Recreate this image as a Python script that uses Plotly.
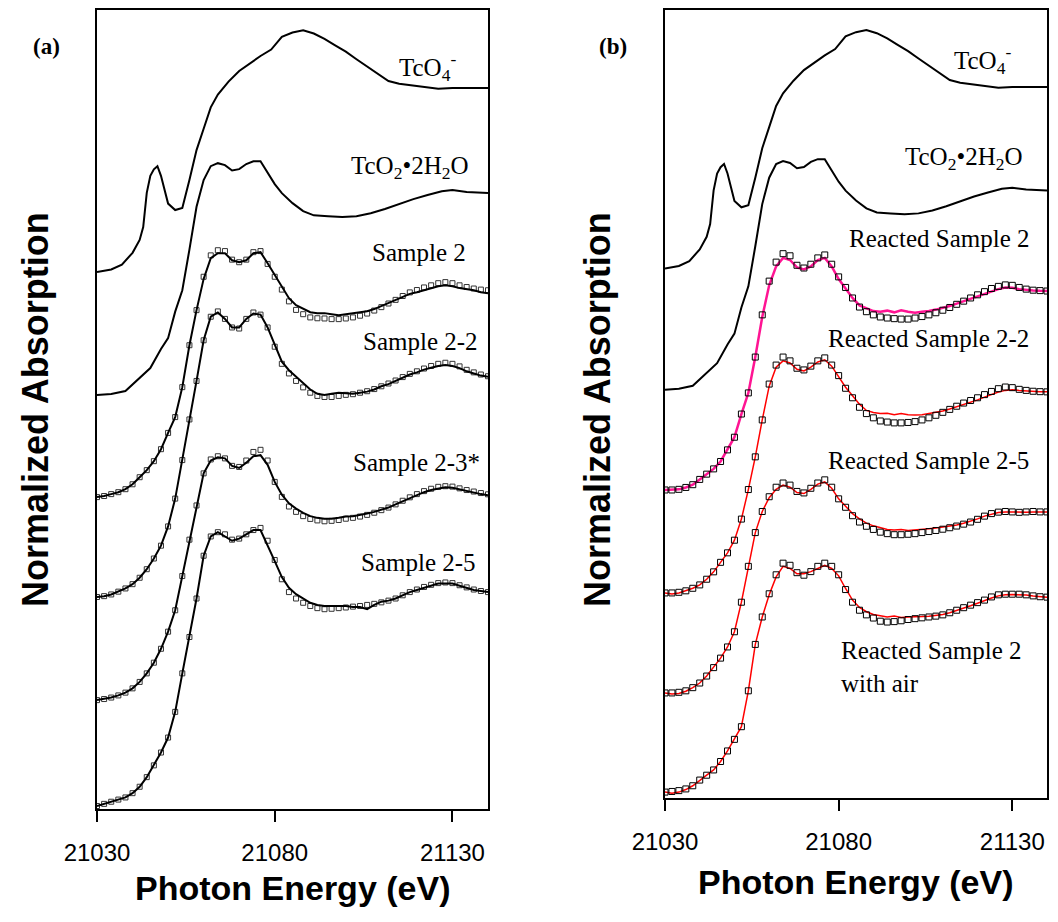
import plotly.graph_objects as go

# ---------------- data ----------------
ENERGY = [21030, 21032, 21034, 21036, 21038, 21040, 21042, 21044, 21046, 21048,
          21050, 21052, 21054, 21056, 21058, 21060, 21062, 21064, 21066, 21068,
          21070, 21072, 21074, 21076, 21078, 21080, 21082, 21084, 21086, 21088,
          21090, 21092, 21094, 21096, 21098, 21100, 21102, 21104, 21106, 21108,
          21110, 21112, 21114, 21116, 21118, 21120, 21122, 21124, 21126, 21128,
          21130, 21132, 21134, 21136, 21138, 21140]

E_TCO4 = [21030, 21034, 21037, 21040, 21042, 21043, 21044, 21045, 21046, 21047,
          21048, 21049, 21050, 21052, 21054, 21056, 21058, 21060, 21062, 21064,
          21067, 21070, 21073, 21076, 21079, 21082, 21085, 21088, 21091, 21094,
          21097, 21100, 21103, 21106, 21109, 21112, 21115, 21118, 21122, 21126,
          21130, 21135, 21140]
TCO4 = [0.0, 0.012, 0.035, 0.09, 0.15, 0.21, 0.37, 0.45, 0.48, 0.495,
        0.45, 0.38, 0.32, 0.29, 0.30, 0.43, 0.57, 0.67, 0.77, 0.83,
        0.89, 0.94, 0.975, 1.01, 1.04, 1.10, 1.12, 1.13, 1.115, 1.09,
        1.06, 1.03, 0.995, 0.96, 0.925, 0.893, 0.88, 0.874, 0.866, 0.857,
        0.86, 0.86, 0.86]

E_TCO2 = [21030, 21034, 21038, 21042, 21045, 21048, 21050, 21052, 21054, 21056,
          21058, 21060, 21062, 21064, 21066, 21068, 21070, 21072, 21074, 21076,
          21078, 21080, 21082, 21085, 21088, 21091, 21095, 21099, 21103, 21107,
          21111, 21115, 21119, 21123, 21127, 21130, 21134, 21140]
TCO2 = [0.0, 0.005, 0.019, 0.08, 0.126, 0.215, 0.266, 0.39, 0.49, 0.68,
        0.88, 1.005, 1.07, 1.084, 1.075, 1.05, 1.056, 1.08, 1.093, 1.093,
        1.037, 0.986, 0.944, 0.897, 0.86, 0.84, 0.836, 0.832, 0.836, 0.85,
        0.87, 0.893, 0.916, 0.935, 0.953, 0.958, 0.949, 0.944]

# panel (a) samples: solid line and open squares
S2_LINE = [0, 0.005, 0.014, 0.023, 0.037, 0.06, 0.093, 0.126, 0.168, 0.224,
           0.30, 0.374, 0.514, 0.71, 0.874, 1.02, 1.117, 1.14, 1.14, 1.107,
           1.098, 1.107, 1.14, 1.145, 1.093, 1.037, 0.981, 0.93, 0.897, 0.879,
           0.864, 0.86, 0.86, 0.855, 0.85, 0.855, 0.86, 0.864, 0.869, 0.879,
           0.893, 0.907, 0.92, 0.935, 0.95, 0.958, 0.967, 0.977, 0.986, 0.99,
           0.986, 0.977, 0.972, 0.967, 0.958, 0.953]
S2_SQ = [0, 0.005, 0.014, 0.023, 0.037, 0.06, 0.093, 0.126, 0.168, 0.224,
         0.30, 0.374, 0.514, 0.71, 0.874, 1.03, 1.13, 1.154, 1.15, 1.11,
         1.098, 1.11, 1.145, 1.15, 1.09, 1.03, 0.97, 0.915, 0.875, 0.855,
         0.84, 0.836, 0.835, 0.832, 0.832, 0.835, 0.84, 0.848, 0.858, 0.872,
         0.888, 0.905, 0.922, 0.94, 0.957, 0.968, 0.98, 0.99, 1.0, 1.005,
         1.0, 0.99, 0.982, 0.975, 0.97, 0.967]
S22_LINE = [0, 0.004, 0.012, 0.025, 0.04, 0.06, 0.09, 0.13, 0.18, 0.24,
            0.33, 0.46, 0.64, 0.83, 1.01, 1.2, 1.31, 1.33, 1.3, 1.26,
            1.26, 1.3, 1.325, 1.32, 1.26, 1.18, 1.1, 1.06, 1.03, 1.0,
            0.97, 0.95, 0.944, 0.95, 0.955, 0.953, 0.95, 0.955, 0.96, 0.97,
            0.985, 0.995, 1.01, 1.025, 1.04, 1.05, 1.063, 1.072, 1.08, 1.084,
            1.08, 1.07, 1.055, 1.045, 1.035, 1.03]
S22_SQ = [0, 0.004, 0.012, 0.025, 0.04, 0.06, 0.09, 0.13, 0.18, 0.24,
          0.33, 0.46, 0.64, 0.83, 1.01, 1.2, 1.31, 1.335, 1.3, 1.26,
          1.255, 1.3, 1.33, 1.32, 1.26, 1.17, 1.09, 1.045, 1.01, 0.98,
          0.955, 0.94, 0.935, 0.935, 0.94, 0.945, 0.948, 0.955, 0.962, 0.972,
          0.985, 0.998, 1.012, 1.028, 1.043, 1.055, 1.068, 1.08, 1.09, 1.095,
          1.09, 1.078, 1.062, 1.05, 1.04, 1.032]
S23_LINE = [0, 0.005, 0.012, 0.022, 0.035, 0.055, 0.085, 0.125, 0.175, 0.24,
            0.32, 0.42, 0.58, 0.75, 0.91, 1.06, 1.12, 1.135, 1.13, 1.095,
            1.085, 1.11, 1.14, 1.145, 1.1, 1.02, 0.96, 0.92, 0.895, 0.875,
            0.86, 0.852, 0.848, 0.848, 0.852, 0.858, 0.86, 0.865, 0.872, 0.88,
            0.89, 0.9, 0.915, 0.93, 0.945, 0.96, 0.972, 0.982, 0.99, 0.995,
            0.993, 0.985, 0.978, 0.97, 0.963, 0.958]
S23_SQ = [0, 0.005, 0.012, 0.022, 0.035, 0.055, 0.085, 0.125, 0.175, 0.24,
          0.32, 0.42, 0.58, 0.75, 0.91, 1.06, 1.125, 1.14, 1.13, 1.095,
          1.09, 1.12, 1.16, 1.17, 1.12, 1.02, 0.95, 0.905, 0.88, 0.86,
          0.847, 0.84, 0.836, 0.838, 0.842, 0.848, 0.852, 0.858, 0.866, 0.876,
          0.888, 0.9, 0.915, 0.932, 0.948, 0.963, 0.977, 0.988, 0.997, 1.0,
          0.998, 0.99, 0.982, 0.975, 0.968, 0.962]
S25_LINE = [0, 0.01, 0.02, 0.03, 0.04, 0.06, 0.09, 0.135, 0.19, 0.25,
            0.32, 0.44, 0.62, 0.79, 0.97, 1.17, 1.26, 1.28, 1.26, 1.24,
            1.25, 1.27, 1.29, 1.29, 1.22, 1.145, 1.07, 1.02, 0.99, 0.97,
            0.95, 0.94, 0.935, 0.935, 0.935, 0.935, 0.93, 0.93, 0.92, 0.94,
            0.955, 0.96, 0.97, 0.985, 1.0, 1.01, 1.02, 1.03, 1.04, 1.04,
            1.04, 1.03, 1.02, 1.01, 1.005, 1.0]
S25_SQ = [0, 0.01, 0.02, 0.03, 0.04, 0.06, 0.09, 0.135, 0.19, 0.25,
          0.32, 0.44, 0.62, 0.79, 0.97, 1.17, 1.26, 1.28, 1.27, 1.245,
          1.25, 1.27, 1.29, 1.3, 1.24, 1.15, 1.06, 1.0, 0.97, 0.95,
          0.935, 0.925, 0.92, 0.922, 0.925, 0.928, 0.932, 0.935, 0.94, 0.945,
          0.952, 0.96, 0.97, 0.985, 1.0, 1.012, 1.024, 1.034, 1.042, 1.045,
          1.042, 1.032, 1.022, 1.012, 1.005, 1.0]

# panel (b) reacted samples: coloured line and open squares
R2_LINE = [0, 0, 0.003, 0.012, 0.025, 0.05, 0.075, 0.1, 0.135, 0.19,
           0.25, 0.36, 0.46, 0.63, 0.82, 0.97, 1.06, 1.1, 1.09, 1.055,
           1.045, 1.06, 1.09, 1.1, 1.06, 1.0, 0.955, 0.91, 0.875, 0.86,
           0.848, 0.845, 0.85, 0.842, 0.852, 0.845, 0.84, 0.845, 0.848, 0.855,
           0.862, 0.872, 0.883, 0.895, 0.905, 0.918, 0.93, 0.942, 0.952, 0.96,
           0.958, 0.952, 0.948, 0.946, 0.944, 0.943]
R2_SQ = [0, 0, 0.003, 0.012, 0.025, 0.05, 0.075, 0.1, 0.135, 0.19,
         0.25, 0.36, 0.46, 0.63, 0.83, 0.99, 1.08, 1.12, 1.11, 1.065,
         1.052, 1.07, 1.1, 1.114, 1.07, 1.01, 0.96, 0.91, 0.867, 0.845,
         0.83, 0.82, 0.815, 0.812, 0.81, 0.81, 0.815, 0.822, 0.83, 0.84,
         0.852, 0.865, 0.88, 0.895, 0.91, 0.925, 0.94, 0.955, 0.965, 0.972,
         0.97, 0.96, 0.952, 0.947, 0.945, 0.943]
R22_LINE = [0, -0.005, 0.0, 0.01, 0.022, 0.038, 0.065, 0.1, 0.145, 0.19,
            0.25, 0.35, 0.49, 0.645, 0.82, 0.98, 1.07, 1.1, 1.09, 1.06,
            1.052, 1.07, 1.095, 1.105, 1.075, 1.025, 0.975, 0.935, 0.895, 0.865,
            0.855, 0.85, 0.852, 0.845, 0.85, 0.845, 0.843, 0.845, 0.85, 0.855,
            0.862, 0.872, 0.882, 0.893, 0.903, 0.915, 0.928, 0.94, 0.952, 0.96,
            0.963, 0.96, 0.957, 0.955, 0.954, 0.953]
R22_SQ = [0, 0, 0.003, 0.01, 0.022, 0.038, 0.065, 0.1, 0.145, 0.19,
          0.25, 0.35, 0.49, 0.645, 0.82, 0.99, 1.08, 1.118, 1.1, 1.065,
          1.057, 1.075, 1.1, 1.114, 1.08, 1.03, 0.97, 0.925, 0.88, 0.85,
          0.83, 0.815, 0.81, 0.806, 0.806, 0.808, 0.812, 0.82, 0.83, 0.842,
          0.856, 0.87, 0.885, 0.9, 0.912, 0.925, 0.94, 0.955, 0.968, 0.976,
          0.973, 0.965, 0.96, 0.956, 0.954, 0.953]
R25_LINE = [0, -0.005, -0.003, 0.008, 0.025, 0.047, 0.08, 0.12, 0.165, 0.218,
            0.29, 0.43, 0.6, 0.76, 0.86, 0.925, 0.965, 0.985, 0.975, 0.95,
            0.945, 0.965, 0.99, 1.0, 0.97, 0.92, 0.885, 0.85, 0.825, 0.805,
            0.792, 0.782, 0.775, 0.772, 0.775, 0.77, 0.772, 0.775, 0.778, 0.782,
            0.786, 0.79, 0.796, 0.804, 0.813, 0.825, 0.838, 0.848, 0.855, 0.858,
            0.857, 0.856, 0.857, 0.858, 0.858, 0.858]
R25_SQ = [0, 0, 0.003, 0.01, 0.025, 0.047, 0.08, 0.12, 0.165, 0.218,
          0.29, 0.43, 0.6, 0.76, 0.86, 0.93, 0.975, 0.995, 0.985, 0.955,
          0.948, 0.97, 0.995, 1.01, 0.975, 0.92, 0.88, 0.84, 0.81, 0.79,
          0.775, 0.762, 0.755, 0.75, 0.75, 0.752, 0.755, 0.76, 0.765, 0.77,
          0.776, 0.783, 0.791, 0.8, 0.81, 0.823, 0.838, 0.85, 0.857, 0.86,
          0.858, 0.856, 0.858, 0.86, 0.858, 0.858]
RAIR_LINE = [0, -0.005, 0.0, 0.012, 0.03, 0.057, 0.08, 0.105, 0.145, 0.195,
             0.25, 0.31, 0.48, 0.7, 0.83, 0.935, 1.02, 1.07, 1.06, 1.035,
             1.035, 1.045, 1.06, 1.075, 1.06, 1.025, 0.965, 0.91, 0.875, 0.855,
             0.842, 0.835, 0.83, 0.835, 0.828, 0.83, 0.83, 0.832, 0.834, 0.837,
             0.842, 0.85, 0.86, 0.871, 0.883, 0.895, 0.908, 0.92, 0.93, 0.935,
             0.936, 0.936, 0.934, 0.93, 0.926, 0.924]
RAIR_SQ = [0, 0.003, 0.007, 0.015, 0.03, 0.057, 0.08, 0.105, 0.145, 0.195,
           0.25, 0.31, 0.48, 0.7, 0.83, 0.94, 1.03, 1.085, 1.075, 1.04,
           1.028, 1.045, 1.07, 1.085, 1.07, 1.03, 0.96, 0.9, 0.862, 0.84,
           0.825, 0.81, 0.806, 0.808, 0.812, 0.818, 0.822, 0.826, 0.83, 0.834,
           0.84, 0.85, 0.862, 0.874, 0.886, 0.898, 0.91, 0.925, 0.935, 0.938,
           0.938, 0.938, 0.935, 0.93, 0.926, 0.924]

# vertical stacking offsets (normalized units)
OFFSETS_A = {"TcO4": 2.51, "TcO2": 1.935, "S2": 1.458, "S22": 0.991, "S23": 0.509, "S25": 0.014}
OFFSETS_B = {"TcO4": 2.51, "TcO2": 1.935, "R2": 1.46, "R22": 0.972, "R25": 0.498, "RAIR": 0.028}

LABELS_A = [("TcO<sub>4</sub><sup>-</sup>", 21123, 3.47),
            ("TcO<sub>2</sub>•2H<sub>2</sub>O", 21118, 3.0),
            ("Sample 2", 21120.5, 2.6),
            ("Sample 2-2", 21121, 2.185),
            ("Sample 2-3*", 21120, 1.62),
            ("Sample 2-5", 21120.5, 1.15)]
LABELS_B = [("TcO<sub>4</sub><sup>-</sup>", 21121.5, 3.5),
            ("TcO<sub>2</sub>•2H<sub>2</sub>O", 21116, 3.03),
            ("Reacted Sample 2", 21109, 2.65),
            ("Reacted Sample 2-2", 21106, 2.18),
            ("Reacted Sample 2-5", 21106, 1.6)]
LABEL_AIR = ("Reacted Sample 2<br>with air", 21080, 0.62)

TICKS = [21030, 21080, 21130]
TICK_TEXT = ["21030", "21080", "21130"]

# ---------------- figure ----------------
W, H = 1058, 922
fig = go.Figure()


def shift(vals, off):
    return [v + off for v in vals]


def line(x, y, xa, ya, color="black", width=2):
    fig.add_trace(go.Scatter(x=x, y=y, mode="lines", xaxis=xa, yaxis=ya,
                             line=dict(color=color, width=width), hoverinfo="skip"))


def squares(x, y, xa, ya, color="#222222", size=5):
    fig.add_trace(go.Scatter(x=x, y=y, mode="markers", xaxis=xa, yaxis=ya,
                             marker=dict(symbol="square-open", size=size, color=color,
                                         line=dict(width=1, color=color)),
                             hoverinfo="skip"))


# panel (a)
line(E_TCO4, shift(TCO4, OFFSETS_A["TcO4"]), "x", "y")
line(E_TCO2, shift(TCO2, OFFSETS_A["TcO2"]), "x", "y")
for key, ln, sq in [("S2", S2_LINE, S2_SQ), ("S22", S22_LINE, S22_SQ),
                    ("S23", S23_LINE, S23_SQ), ("S25", S25_LINE, S25_SQ)]:
    squares(ENERGY, shift(sq, OFFSETS_A[key]), "x", "y", color="#333333")
    line(ENERGY, shift(ln, OFFSETS_A[key]), "x", "y")

# panel (b)
line(E_TCO4, shift(TCO4, OFFSETS_B["TcO4"]), "x2", "y2")
line(E_TCO2, shift(TCO2, OFFSETS_B["TcO2"]), "x2", "y2")
line(ENERGY, shift(R2_LINE, OFFSETS_B["R2"]), "x2", "y2", color="#FF1493", width=2.5)
squares(ENERGY, shift(R2_SQ, OFFSETS_B["R2"]), "x2", "y2", color="black", size=6)
for key, ln, sq in [("R22", R22_LINE, R22_SQ), ("R25", R25_LINE, R25_SQ),
                    ("RAIR", RAIR_LINE, RAIR_SQ)]:
    line(ENERGY, shift(ln, OFFSETS_B[key]), "x2", "y2", color="#FF0000", width=1.5)
    squares(ENERGY, shift(sq, OFFSETS_B[key]), "x2", "y2", color="black", size=6)

serif = "Liberation Serif, Times New Roman, serif"
sans = "Liberation Sans, Arial, sans-serif"

ann = []
for txt, x, y in LABELS_A:
    ann.append(dict(text=txt, x=x, y=y, xref="x", yref="y", showarrow=False,
                    font=dict(family=serif, size=25, color="black"),
                    xanchor="center", yanchor="middle"))
for txt, x, y in LABELS_B:
    ann.append(dict(text=txt, x=x, y=y, xref="x2", yref="y2", showarrow=False,
                    font=dict(family=serif, size=25, color="black"),
                    xanchor="center", yanchor="middle"))
ann.append(dict(text=LABEL_AIR[0], x=LABEL_AIR[1], y=LABEL_AIR[2], xref="x2", yref="y2",
                showarrow=False, align="left", font=dict(family=serif, size=25, color="black"),
                xanchor="left", yanchor="middle"))


def px(xp, yp):
    return xp / W, 1 - yp / H


for txt, (xp, yp) in [("<b>(a)</b>", (46, 47)), ("<b>(b)</b>", (613, 47))]:
    x, y = px(xp, yp)
    ann.append(dict(text=txt, x=x, y=y, xref="paper", yref="paper", showarrow=False,
                    font=dict(family=serif, size=23, color="black"),
                    xanchor="center", yanchor="middle"))
for xp, yp in [(35, 410), (597, 410)]:
    x, y = px(xp, yp)
    ann.append(dict(text="<b>Normalized Absorption</b>", x=x, y=y, xref="paper", yref="paper",
                    showarrow=False, textangle=-90,
                    font=dict(family=sans, size=36, color="black"),
                    xanchor="center", yanchor="middle"))
for xp, yp in [(292, 888), (855, 882)]:
    x, y = px(xp, yp)
    ann.append(dict(text="<b>Photon Energy (eV)</b>", x=x, y=y, xref="paper", yref="paper",
                    showarrow=False, font=dict(family=sans, size=34, color="black"),
                    xanchor="center", yanchor="middle"))

xcommon = dict(range=[21030, 21140], tickvals=TICKS, ticktext=TICK_TEXT, ticks="outside",
               ticklen=11, tickwidth=1.5, tickcolor="black", showline=True, mirror=True,
               linecolor="black", linewidth=1.5, showgrid=False, zeroline=False,
               automargin=False,
               tickfont=dict(family=sans, size=24, color="black"), ticklabelstandoff=10)
ycommon = dict(range=[0, 3.735], showticklabels=False, ticks="", showline=True, mirror=True,
               linecolor="black", linewidth=1.5, showgrid=False, zeroline=False,
               automargin=False)

fig.update_layout(
    width=W, height=H, autosize=False,
    margin=dict(l=0, r=0, t=0, b=0, pad=0, autoexpand=False),
    paper_bgcolor="white", plot_bgcolor="white", showlegend=False,
    xaxis=dict(domain=[97 / W, 488 / W], anchor="y", **xcommon),
    yaxis=dict(domain=[1 - 809 / H, 1 - 10 / H], anchor="x", **ycommon),
    xaxis2=dict(domain=[665 / W, 1047 / W], anchor="y2", **xcommon),
    yaxis2=dict(domain=[1 - 798 / H, 1 - 10 / H], anchor="x2", **ycommon),
    annotations=ann,
)

fig.write_html("out.html")
